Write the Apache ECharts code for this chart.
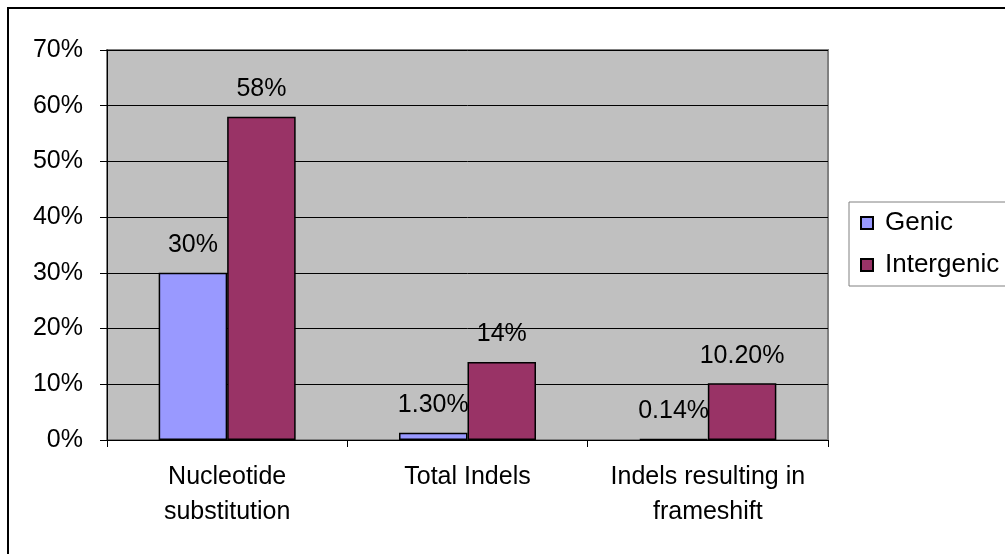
<!DOCTYPE html>
<html>
<head>
<meta charset="utf-8">
<style>
html,body{margin:0;padding:0;background:#fff;}
#chart{width:1005px;height:554px;}
</style>
<script src="https://cdn.jsdelivr.net/npm/echarts@6/dist/echarts.min.js"></script>
</head>
<body>
<div id="chart"></div>
<script>
var categories = ['Nucleotide\nsubstitution', 'Total Indels', 'Indels resulting in\nframeshift'];
var genicValues = [30, 1.3, 0.14];
var intergenicValues = [58, 14, 10.2];
var genicLabels = ['30%', '1.30%', '0.14%'];
var intergenicLabels = ['58%', '14%', '10.20%'];
var yTicks = [0, 10, 20, 30, 40, 50, 60, 70];

var FONT = '"Liberation Sans", Arial, sans-serif';
var chart = echarts.init(document.getElementById('chart'));
chart.setOption({
  animation: false,
  backgroundColor: '#ffffff',
  textStyle: { fontFamily: FONT, color: '#000' },
  graphic: [{
    type: 'polyline',
    shape: { points: [[8, 560], [8, 8], [1010, 8]] },
    style: { stroke: '#000', lineWidth: 2, fill: null },
    silent: true
  }],
  grid: {
    left: 107, right: 177, top: 50, bottom: 114,
    show: true, backgroundColor: '#C0C0C0', borderColor: '#808080', borderWidth: 2
  },
  legend: {
    orient: 'vertical',
    left: 849, top: 202,
    padding: [8, 20, 8, 11],
    borderColor: '#808080', borderWidth: 1,
    backgroundColor: '#fff',
    itemWidth: 12, itemHeight: 12, itemGap: 16,
    textStyle: { fontSize: 26, lineHeight: 26, color: '#000', fontFamily: FONT, padding: [0, 0, 0, 7] },
    icon: 'rect',
    data: ['Genic', 'Intergenic']
  },
  xAxis: {
    type: 'category',
    data: categories,
    axisLine: { lineStyle: { color: '#000', width: 1 } },
    axisTick: { show: true, length: 7, interval: 0, lineStyle: { color: '#000' } },
    axisLabel: { fontSize: 25, lineHeight: 35, color: '#000', margin: 20, interval: 0, fontFamily: FONT },
    splitLine: { show: false }
  },
  yAxis: {
    type: 'value',
    min: 0, max: 70, interval: 10,
    axisLine: { show: true, lineStyle: { color: '#000', width: 1 } },
    axisTick: { show: true, length: 7, lineStyle: { color: '#000' } },
    axisLabel: {
      fontSize: 25, color: '#000', margin: 24, fontFamily: FONT,
      formatter: function (v) { return yTicks.indexOf(v) >= 0 ? v + '%' : ''; }
    },
    splitLine: { show: true, lineStyle: { color: '#000', width: 1 } }
  },
  series: [{
    name: 'Genic',
    type: 'bar',
    data: genicValues,
    barGap: '0%',
    barCategoryGap: '43%',
    itemStyle: { color: '#9999FF', borderColor: '#000', borderWidth: 1.5 },
    label: {
      show: true, position: 'top', distance: 15, fontSize: 25, lineHeight: 25, color: '#000', fontFamily: FONT,
      formatter: function (p) { return genicLabels[p.dataIndex]; }
    }
  }, {
    name: 'Intergenic',
    type: 'bar',
    data: intergenicValues,
    barGap: '0%',
    barCategoryGap: '43%',
    itemStyle: { color: '#993366', borderColor: '#000', borderWidth: 1.5 },
    label: {
      show: true, position: 'top', distance: 15, fontSize: 25, lineHeight: 25, color: '#000', fontFamily: FONT,
      formatter: function (p) { return intergenicLabels[p.dataIndex]; }
    }
  }]
});
</script>
</body>
</html>
